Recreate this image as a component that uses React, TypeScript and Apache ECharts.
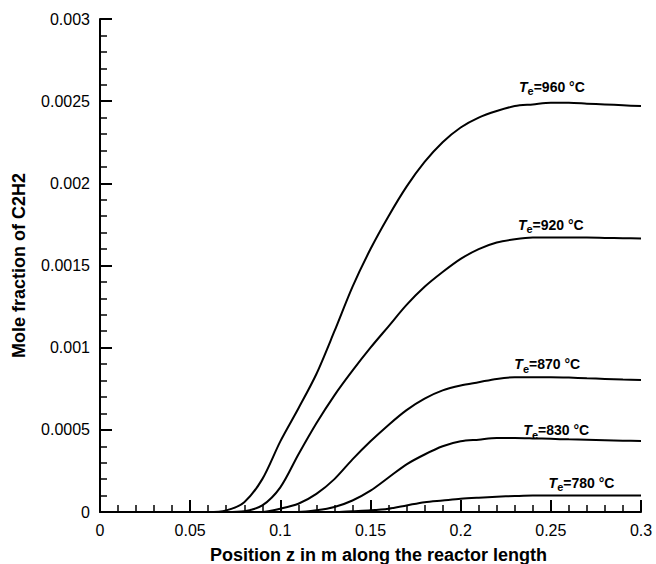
import React, { useEffect, useRef } from "react";
import * as echarts from "echarts";

const positions = [0, 0.05, 0.06, 0.07, 0.08, 0.09, 0.1, 0.11, 0.12, 0.13, 0.14, 0.15, 0.16, 0.17, 0.18, 0.19, 0.2, 0.21, 0.22, 0.23, 0.24, 0.25, 0.26, 0.27, 0.28, 0.29, 0.3];

const te960 = [0, 0, 0, 0.00001, 0.00006, 0.0002, 0.00043, 0.00063, 0.00084, 0.0011, 0.00137, 0.0016, 0.0018, 0.00198, 0.00213, 0.00225, 0.00234, 0.0024, 0.00244, 0.00247, 0.00248, 0.00249, 0.00249, 0.002485, 0.00248, 0.002475, 0.00247];
const te920 = [0, 0, 0, 0, 0.000005, 0.00004, 0.00015, 0.00035, 0.00054, 0.00071, 0.00086, 0.001, 0.00113, 0.00126, 0.00137, 0.00146, 0.00154, 0.0016, 0.00164, 0.00166, 0.00167, 0.00167, 0.00167, 0.00167, 0.001668, 0.001666, 0.001665];
const te870 = [0, 0, 0, 0, 0, 0, 0.00002, 0.00005, 0.00011, 0.0002, 0.00032, 0.00043, 0.00053, 0.00062, 0.00069, 0.00074, 0.00077, 0.00079, 0.00081, 0.00082, 0.00082, 0.00082, 0.000818, 0.000814, 0.00081, 0.000806, 0.000803];
const te830 = [0, 0, 0, 0, 0, 0, 0, 0, 0.00001, 0.00003, 0.00007, 0.00013, 0.00021, 0.00029, 0.00035, 0.0004, 0.00043, 0.00044, 0.00045, 0.00045, 0.000448, 0.000445, 0.000442, 0.00044, 0.000437, 0.000434, 0.000432];
const te780 = [0, 0, 0, 0, 0, 0, 0, 0, 0, 0, 0.000005, 0.00001, 0.00002, 0.00004, 0.00006, 0.00007, 0.00008, 0.000087, 0.000093, 0.000097, 0.0001, 0.0001, 0.0001, 0.0001, 0.0001, 0.0001, 0.0001];

const temperatures = ["960", "920", "870", "830", "780"];
const seriesValues = [te960, te920, te870, te830, te780];
// label anchor points in data coordinates [z, mole fraction]
const labelAnchors = [
  [0.2506, 0.0026],
  [0.25, 0.00176],
  [0.248, 0.00091],
  [0.253, 0.00051],
  [0.267, 0.00019],
];

const FONT = "Arial, 'Liberation Sans', Helvetica, sans-serif";

export default function App() {
  const ref = useRef<HTMLDivElement>(null);
  useEffect(() => {
    if (!ref.current) return;
    document.body.style.margin = "0";
    const chart = echarts.init(ref.current, null, { renderer: "svg" });
    const fmt = (v: number) => String(+v.toFixed(5));
    const axisCommon = {
      type: "value" as const,
      axisLine: { show: true, onZero: false, lineStyle: { color: "#000", width: 2 } },
      axisTick: { show: true, inside: true, length: 12, lineStyle: { color: "#000", width: 2 } },
      minorTick: { show: true, splitNumber: 5, length: 7, lineStyle: { color: "#000", width: 1.5 } },
      splitLine: { show: false },
      minorSplitLine: { show: false },
      axisLabel: { color: "#000", fontSize: 16, fontFamily: FONT, margin: 10, formatter: fmt },
    };
    const nameStyle = { color: "#000", fontSize: 18, fontWeight: "bold" as const, fontFamily: FONT };
    chart.setOption({
      animation: false,
      backgroundColor: "#fff",
      textStyle: { fontFamily: FONT },
      grid: { left: 100, right: 15, top: 19, bottom: 52, containLabel: false, outerBoundsMode: "none" },
      xAxis: {
        ...axisCommon,
        min: 0,
        max: 0.3,
        interval: 0.05,
        name: "Position z in m along the reactor length",
        nameLocation: "middle",
        nameGap: 34,
        nameTextStyle: { ...nameStyle, padding: [0, 0, 0, 16] },
      },
      yAxis: {
        ...axisCommon,
        min: 0,
        max: 0.003,
        interval: 0.0005,
        name: "Mole fraction of C2H2",
        nameLocation: "middle",
        nameGap: 72,
        nameTextStyle: nameStyle,
      },
      series: seriesValues.map((vals, i) => ({
        type: "line",
        name: temperatures[i],
        data: positions.map((z, k) => [z, vals[k]]),
        smooth: 0.3,
        showSymbol: false,
        lineStyle: { color: "#000", width: 2 },
        itemStyle: { color: "#000" },
        z: 3,
        markPoint: {
          symbol: "circle",
          symbolSize: 0,
          silent: true,
          data: [
            {
              coord: labelAnchors[i],
              label: {
                show: true,
                position: "inside",
                formatter: `{t|T}{s|e}{n|=${temperatures[i]} °C}`,
                rich: {
                  t: { fontSize: 14, fontWeight: "bold", fontStyle: "italic", color: "#000", fontFamily: FONT, lineHeight: 18, verticalAlign: "bottom" },
                  s: { fontSize: 11, fontWeight: "bold", color: "#000", fontFamily: FONT, lineHeight: 18, verticalAlign: "bottom", padding: [0, 0, -3, 0] },
                  n: { fontSize: 14, fontWeight: "bold", color: "#000", fontFamily: FONT, lineHeight: 18, verticalAlign: "bottom" },
                },
              },
            },
          ],
        },
      })),
    });
    return () => chart.dispose();
  }, []);
  return <div ref={ref} style={{ width: 656, height: 564 }} />;
}
